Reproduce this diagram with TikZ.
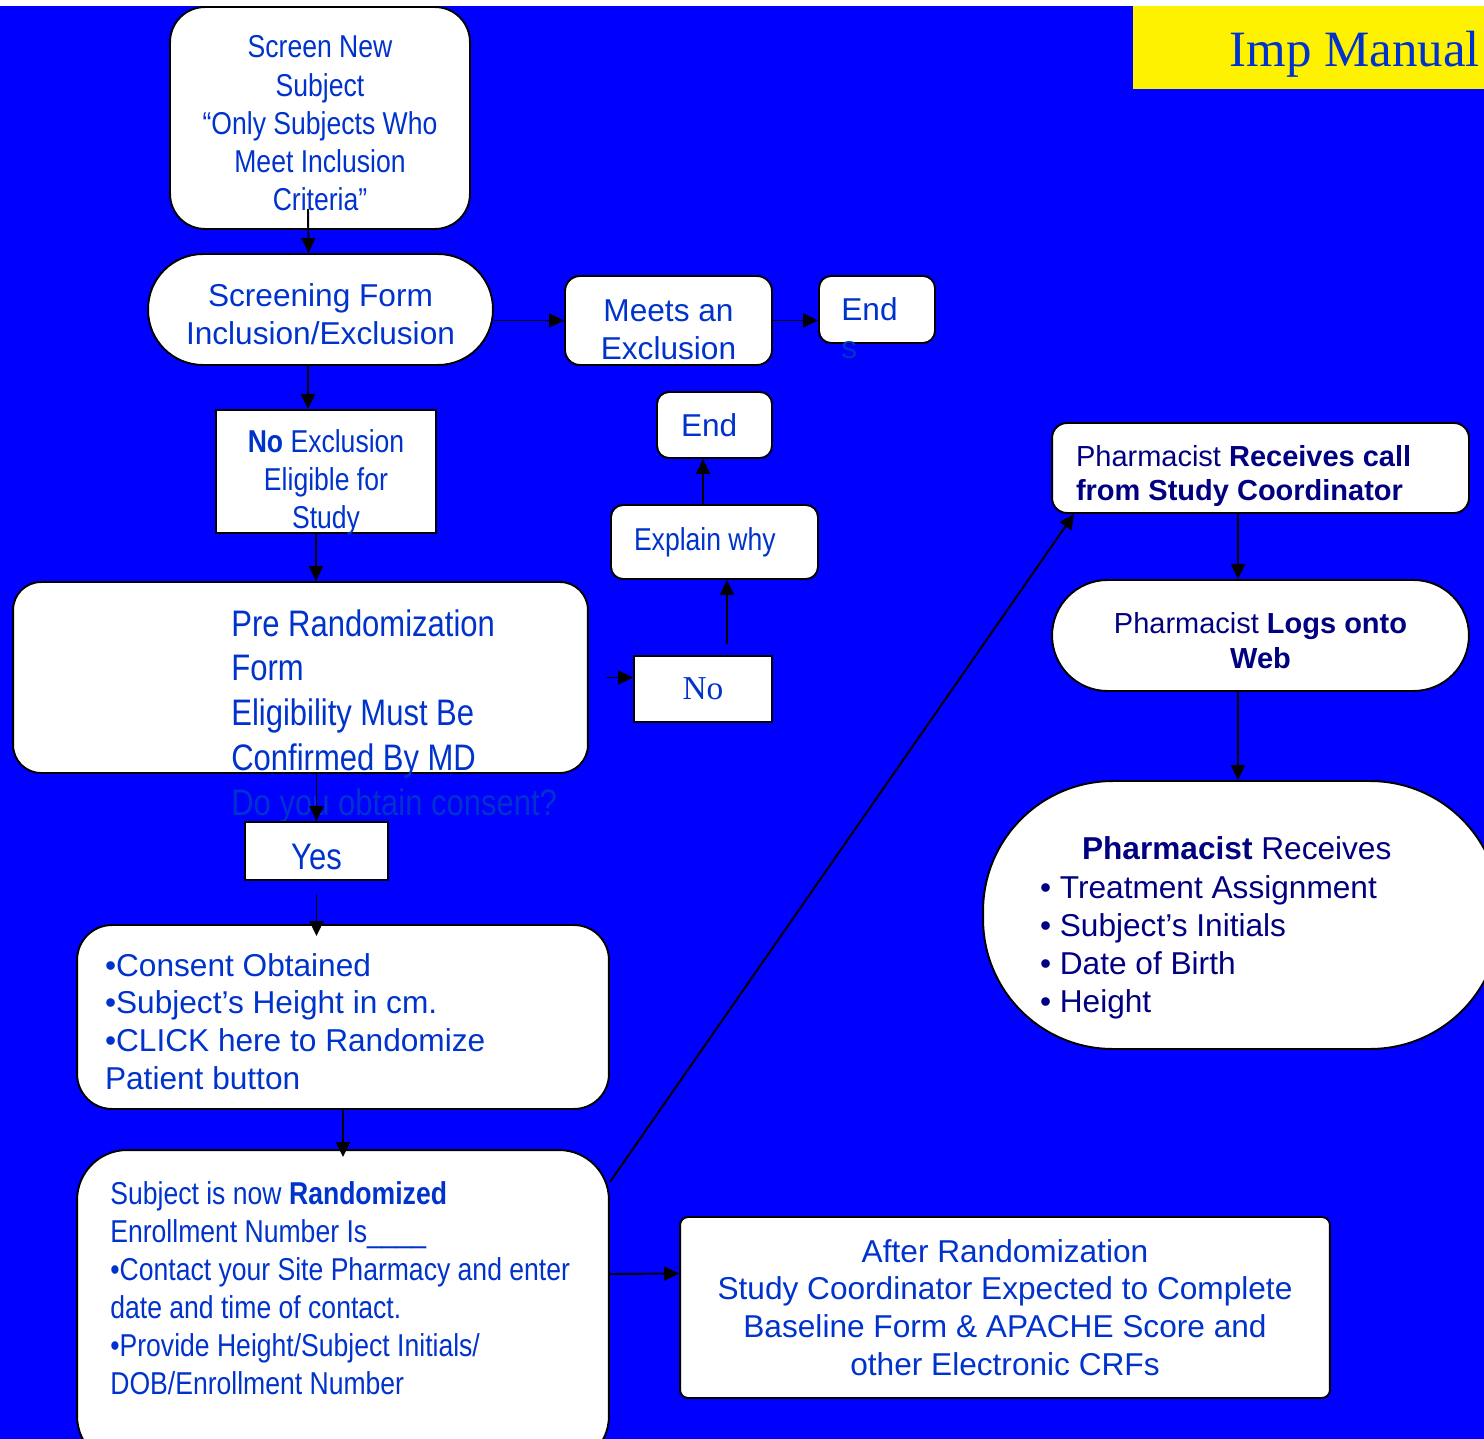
\documentclass[tikz,border=0pt]{standalone}
\usepackage{fontspec}
\setmainfont{Liberation Sans}
\newfontfamily\narrowsans[FakeStretch=0.84]{Liberation Sans}
\newfontfamily\timesfont{Liberation Serif}
\usetikzlibrary{shapes, arrows.meta, positioning}
\definecolor{bgblue}{RGB}{0,0,255}
\definecolor{txtblue}{RGB}{0,51,204}
\definecolor{navytxt}{RGB}{0,0,128}

\begin{document}
\begin{tikzpicture}[x=0.02cm, y=-0.02cm,
    box/.style={draw, line width=1.1pt, fill=white, text=txtblue, inner sep=0pt},
    rbox/.style={box, rounded corners=#1}, rbox/.default=0.24cm,
    arr/.style={-{Triangle[length=0.3cm,width=0.28cm]}, line width=1.1pt},
    big/.style={font=\fontsize{18}{21.5}\selectfont},
    nar/.style={font=\narrowsans\fontsize{18}{21.7}\selectfont},
    ph/.style={font=\fontsize{16.5}{19.8}\selectfont, text=navytxt}]
    \useasboundingbox (0,0) rectangle (1484,1439);
    \fill[white] (0,0) rectangle (1484,6);
    \fill[bgblue] (0,6) rectangle (1484,1439);

    % Site side
    \node (screen) [rbox=0.7cm, nar, minimum width=6cm, minimum height=4.44cm, text width=5.6cm, align=flush center, text height=18.6pt] at (320,118)
        {Screen New\\Subject\\“Only Subjects Who\\Meet Inclusion\\Criteria”};
    \node (form) [rbox=1.1cm, big, minimum width=6.9cm, minimum height=2.22cm, text width=6.5cm, align=flush center, text height=18.6pt] at (320.5,309.5)
        {Screening Form\\Inclusion/Exclusion};
    \node (meets) [rbox=0.3cm, big, minimum width=4.14cm, minimum height=1.78cm, text width=3.9cm, align=flush center, text height=23.1pt] at (668.5,320.5)
        {Meets an\\Exclusion};
    \node (end1) [rbox, minimum width=2.32cm, minimum height=1.34cm] at (877,309.5) {};
    \node (endtxt) [big, text=txtblue, anchor=north west, inner sep=0pt, align=left] at (841,297) {End\\s};
    \node (noexcl) [box, nar, minimum width=4.4cm, minimum height=2.46cm, text width=4.2cm, align=flush center,
        text height=22.1pt, text depth=44.2pt] at (326,471.5)
        {\textbf{No} Exclusion\\Eligible for\\Study};
    \node (pre) [rbox=0.56cm, minimum width=11.5cm, minimum height=3.82cm] at (300.5,677.5) {};
    \node (pretxt) [anchor=north west, inner sep=0pt, align=left, text=txtblue,
        font=\narrowsans\fontsize{21}{25.5}\selectfont] at (231,609)
        {Pre Randomization\\Form\\Eligibility Must Be\\Confirmed By MD\\Do you obtain consent?};
    \node (yes) [box, font=\narrowsans\fontsize{21}{25.5}\selectfont, minimum width=2.86cm, minimum height=1.16cm, text height=20.7pt] at (316.5,851) {Yes};
    \node (consent) [rbox=0.7cm, big, minimum width=10.64cm, minimum height=3.68cm, text width=9.52cm, align=flush left, text height=18.2pt] at (343,1017)
        {•Consent Obtained\\•Subject’s Height in cm.\\•CLICK here to Randomize\\Patient button};
    \node (rand) [rbox=1cm, minimum width=10.64cm, minimum height=6.32cm] at (343,1308) {};
    \node (randtxt) [anchor=north west, inner sep=0pt, align=left, nar, text=txtblue] at (110,1181)
        {Subject is now \textbf{Randomized}\\Enrollment Number Is\_\_\_\_\\•Contact your Site Pharmacy and enter\\date and time of contact.\\•Provide Height/Subject Initials/\\DOB/Enrollment Number};
    \node (after) [rbox=0.16cm, big, minimum width=13cm, minimum height=3.62cm, align=center] at (1005,1307.5)
        {After Randomization\\Study Coordinator Expected to Complete\\Baseline Form \& APACHE Score and\\other Electronic CRFs};

    % Not eligible
    \node (no) [box, font=\timesfont\fontsize{19}{23}\selectfont, minimum width=2.76cm, minimum height=1.32cm] at (703,689) {No};
    \node (explain) [rbox, nar, minimum width=4.14cm, minimum height=1.48cm, text width=3.22cm, align=flush left] at (714.5,542) {Explain why};
    \node (end2) [rbox, big, minimum width=2.3cm, minimum height=1.32cm, text width=1.34cm, align=flush left] at (714.5,425) {End};

    % Pharmacy side
    \node (recv) [rbox=0.3cm, ph, minimum width=8.34cm, minimum height=1.8cm, text width=7.38cm, align=flush left, text height=21pt] at (1260.5,468)
        {Pharmacist \textbf{Receives call}\\\textbf{from Study Coordinator}};
    \node (logs) [rbox=1.11cm, ph, minimum width=8.34cm, minimum height=2.22cm, text width=7.9cm, align=flush center, text height=17.7pt] at (1260.5,635.5)
        {Pharmacist \textbf{Logs onto}\\\textbf{Web}};
    \node (rcv2) [rbox=2.6cm, font=\fontsize{18}{21.7}\selectfont, text=navytxt, minimum width=10.34cm, minimum height=5.36cm,
        text width=8.06cm, align=flush left, text height=27.8pt] at (1241.5,915)
        {\hspace*{0.84cm}\textbf{Pharmacist} Receives\\• Treatment Assignment\\• Subject’s Initials\\• Date of Birth\\• Height};
    \node (imp) [fill=yellow, text=txtblue, inner sep=0pt, minimum width=7.02cm, minimum height=1.66cm, text width=6.86cm, align=flush right,
        text height=27.8pt, font=\timesfont\fontsize{29}{34}\selectfont] at (1308.5,47.5) {Imp Manual};

    \draw[arr] ([xshift=-0.24cm,yshift=0.42cm]screen.south) -- ([xshift=-0.24cm]form.north);
    \draw[arr] (form.east |- meets.west) -- (meets.west);
    \draw[arr] (meets.east) -- (meets.east -| end1.west);
    \draw[arr] ([xshift=-0.25cm]form.south) -- ([xshift=-0.25cm]form.south |- noexcl.north);
    \draw[arr] ([xshift=-0.2cm]noexcl.south) -- ([xshift=-0.2cm]noexcl.south |- pre.north);
    \draw[arr] (yes.north |- pre.south) -- (yes.north);
    \draw[arr] ([xshift=0.34cm]pre.east) -- (pre.east -| no.west);
    \draw[arr] ([xshift=0.48cm,yshift=0.22cm]no.north) -- ([xshift=0.48cm]no.north |- explain.south);
    \draw[arr] ([xshift=-0.23cm]explain.north) -- ([xshift=-0.23cm]explain.north |- end2.south);
    \draw[arr, shorten >=-0.24cm] ([yshift=-0.26cm]yes.south) -- (yes.south |- consent.north);
    \draw[arr, shorten >=-0.16cm] (consent.south) -- (rand.north);
    \draw[arr] ([yshift=0.68cm]rand.east) -- ([yshift=0.68cm]after.west);
    \draw[arr] ([yshift=-0.66cm]rand.north east) -- ([xshift=0.46cm]recv.south west);
    \draw[arr] ([xshift=-0.45cm]recv.south) -- ([xshift=-0.45cm]logs.north);
    \draw[arr] ([xshift=-0.45cm]logs.south) -- ([xshift=-0.45cm]logs.south |- rcv2.north);
\end{tikzpicture}
\end{document}
